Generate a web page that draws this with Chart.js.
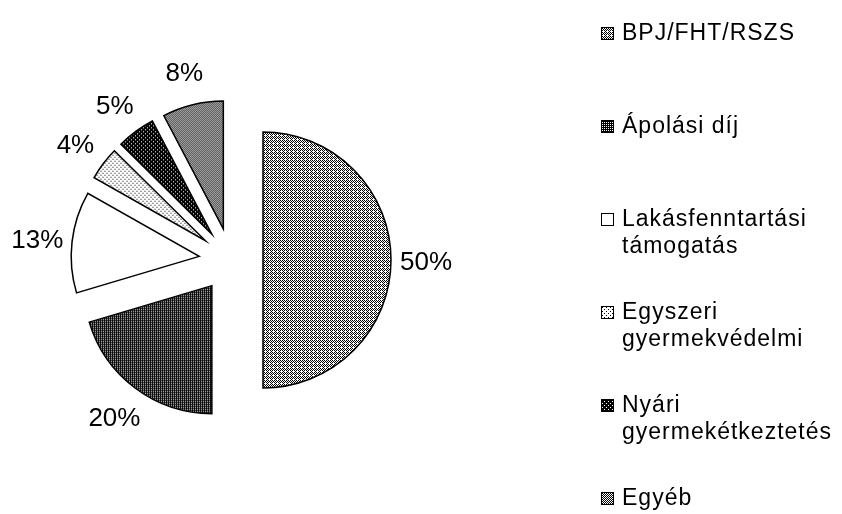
<!DOCTYPE html>
<html lang="hu">
<head>
<meta charset="utf-8">
<title>Megoszlás</title>
<script src="https://cdn.jsdelivr.net/npm/chart.js@4.4.1/dist/chart.umd.min.js"></script>
<style>
  html, body { margin: 0; padding: 0; background: #fff; }
  #wrap { position: relative; width: 842px; height: 514px; font-family: "Liberation Sans", Arial, sans-serif; }
  #wrap canvas { position: absolute; left: 0; top: 0; }
  #legend { position: absolute; left: 601px; top: 19px; margin: 0; padding: 0; list-style: none; }
  #legend li { position: relative; height: 93px; padding-left: 21px; font-size: 23px; line-height: 27px;
               letter-spacing: 1px; color: #000; white-space: pre-line; }
  #legend .box { position: absolute; left: 0; top: 8px; width: 11px; height: 11px; border: 1px solid #000; }
</style>
</head>
<body>
<div id="wrap">
  <canvas id="pieChart" width="842" height="514"></canvas>
  <ul id="legend"></ul>
</div>
<script>
/* ------------------------------------------------------------
   Données
------------------------------------------------------------ */
const categories = [
  'BPJ/FHT/RSZS',
  'Ápolási díj',
  'Lakásfenntartási\ntámogatás',
  'Egyszeri\ngyermekvédelmi',
  'Nyári\ngyermekétkeztetés',
  'Egyéb'
];
const values = [50.0, 20.4, 12.8, 4.2, 4.9, 7.7];

// part de noir (sur 16) dans la trame de chaque part
const shades = [7, 12, 0, 2, 14, 8];

const EXPLODE = 32;     // décalage des parts
const LABEL_GAP = 35;   // distance étiquette / bord

/* ------------------------------------------------------------
   Trames (dither 4x4)
------------------------------------------------------------ */
const BAYER = [[0, 8, 2, 10], [12, 4, 14, 6], [3, 11, 1, 9], [15, 7, 13, 5]];

function makeTile(level) {
  const c = document.createElement('canvas');
  c.width = 4; c.height = 4;
  const g = c.getContext('2d');
  g.fillStyle = '#fff';
  g.fillRect(0, 0, 4, 4);
  g.fillStyle = '#000';
  for (let j = 0; j < 4; j++)
    for (let i = 0; i < 4; i++)
      if (BAYER[j][i] < level) g.fillRect(i, j, 1, 1);
  return c;
}

const tiles = shades.map(makeTile);
const ctx = document.getElementById('pieChart').getContext('2d');
const patterns = tiles.map(t => ctx.createPattern(t, 'repeat'));

/* ------------------------------------------------------------
   Plugins
------------------------------------------------------------ */
const explodedArcs = {
  id: 'explodedArcs',
  beforeDatasetDraw(chart, args) {
    const c = chart.ctx;
    args.meta.data.forEach(arc => {
      const mid = (arc.startAngle + arc.endAngle) / 2;
      c.save();
      c.translate(Math.cos(mid) * EXPLODE, Math.sin(mid) * EXPLODE);
      arc.draw(c, chart.chartArea);
      c.restore();
    });
    return false;
  }
};

const sliceLabels = {
  id: 'sliceLabels',
  afterDatasetsDraw(chart) {
    const c = chart.ctx;
    const meta = chart.getDatasetMeta(0);
    const total = values.reduce((a, b) => a + b, 0);
    c.save();
    c.font = '26px "Liberation Sans", Arial, sans-serif';
    c.fillStyle = '#000';
    c.textAlign = 'center';
    c.textBaseline = 'middle';
    meta.data.forEach((arc, i) => {
      const p = arc.getProps(['x', 'y', 'startAngle', 'endAngle', 'outerRadius'], true);
      const mid = (p.startAngle + p.endAngle) / 2;
      const r = EXPLODE + p.outerRadius + LABEL_GAP;
      c.fillText(Math.round(values[i] / total * 100) + '%',
                 p.x + Math.cos(mid) * r, p.y + Math.sin(mid) * r + 3);
    });
    c.restore();
  }
};

/* ------------------------------------------------------------
   Graphique
------------------------------------------------------------ */
new Chart(ctx, {
  type: 'pie',
  data: {
    labels: categories,
    datasets: [{
      data: values,
      backgroundColor: patterns,
      borderColor: '#000',
      borderWidth: 1.5,
      borderJoinStyle: 'miter',
      radius: 128,
      offset: 0,
      hoverOffset: 0
    }]
  },
  options: {
    responsive: false,
    animation: false,
    layout: { padding: { left: 0, right: 380, top: 6, bottom: 0 } },
    plugins: {
      legend: { display: false },
      tooltip: { enabled: false }
    }
  },
  plugins: [explodedArcs, sliceLabels]
});

/* ------------------------------------------------------------
   Légende HTML
------------------------------------------------------------ */
const legend = document.getElementById('legend');
categories.forEach((name, i) => {
  const li = document.createElement('li');
  const box = document.createElement('span');
  box.className = 'box';
  box.style.backgroundImage = `url(${tiles[i].toDataURL()})`;
  li.appendChild(box);
  li.appendChild(document.createTextNode(name));
  legend.appendChild(li);
});
</script>
</body>
</html>
